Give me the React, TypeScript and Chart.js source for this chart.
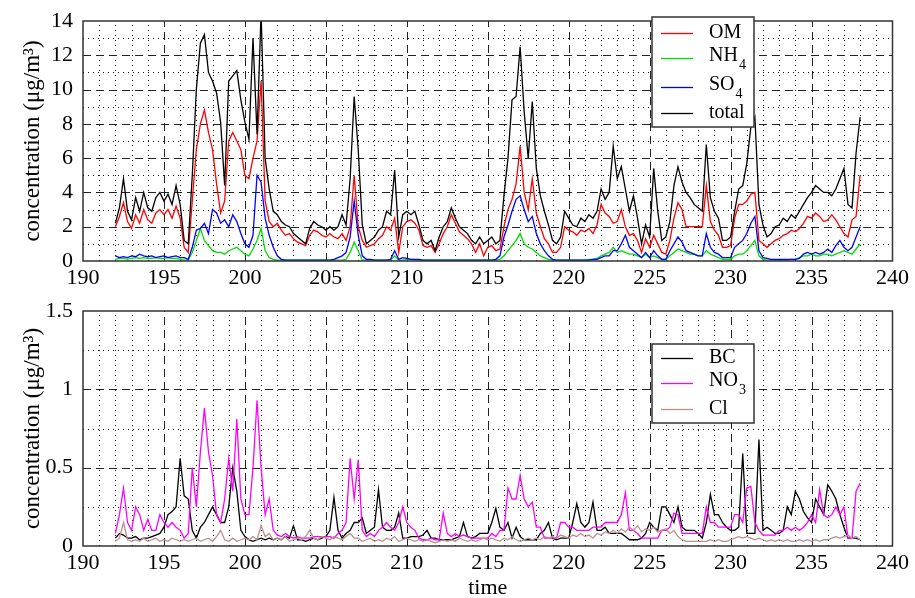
import React, { useEffect, useRef } from 'react';
import { Chart, registerables } from 'chart.js';
Chart.register(...registerables);

// sampling: day 192.0 to 238.0, every 0.25 day
const TIME_START = 192;
const TIME_STEP = 0.25;

// ---------- top panel (µg/m3) ----------
const totalSeries = [
  2.2, 3.1, 4.8, 2.9, // 192
  2.4, 3.7, 2.9, 4.0, // 193
  3.1, 2.9, 3.7, 4.0, // 194
  3.5, 3.9, 3.3, 4.4, // 195
  3.3, 1.2, 1.0, 5.0, // 196
  10.0, 12.7, 13.2, 11.0, // 197
  10.5, 9.8, 8.1, 4.4, // 198
  10.5, 10.8, 11.1, 9.4, // 199
  8.1, 7.1, 13.0, 7.4, // 200
  14.5, 6.0, 4.2, 2.9, // 201
  2.7, 2.3, 2.1, 2.0, // 202
  1.6, 1.4, 1.2, 1.0, // 203
  1.9, 2.3, 2.1, 2.0, // 204
  1.8, 2.0, 1.8, 2.0, // 205
  2.7, 2.1, 4.8, 9.6, // 206
  6.5, 2.1, 1.0, 1.2, // 207
  1.4, 1.8, 2.0, 2.9, // 208
  2.7, 5.3, 1.4, 2.7, // 209
  2.9, 2.7, 2.9, 2.1, // 210
  1.2, 1.0, 1.2, 0.6, // 211
  1.4, 2.0, 2.3, 3.1, // 212
  2.5, 2.0, 1.8, 1.6, // 213
  1.2, 1.0, 1.4, 1.0, // 214
  1.2, 1.4, 1.0, 1.2, // 215
  3.8, 6.0, 9.4, 9.6, // 216
  12.5, 8.7, 6.0, 9.3, // 217
  5.4, 3.8, 2.9, 2.1, // 218
  1.2, 1.0, 1.4, 2.9, // 219
  2.5, 2.1, 2.0, 2.5, // 220
  2.3, 2.7, 2.5, 2.9, // 221
  4.2, 3.6, 4.0, 6.7, // 222
  4.8, 5.5, 4.2, 2.9, // 223
  3.8, 2.5, 1.0, 2.1, // 224
  1.4, 5.4, 2.9, 1.2, // 225
  1.4, 2.3, 4.4, 5.5, // 226
  4.6, 4.0, 3.7, 3.3, // 227
  3.1, 2.9, 6.8, 3.7, // 228
  2.9, 2.5, 1.2, 1.2, // 229
  1.4, 2.9, 4.2, 4.4, // 230
  5.7, 7.8, 8.4, 3.3, // 231
  2.1, 1.4, 1.6, 2.0, // 232
  2.1, 2.5, 2.3, 2.7, // 233
  2.5, 2.9, 3.3, 3.7, // 234
  4.0, 4.4, 4.2, 4.0, // 235
  4.0, 3.8, 4.2, 4.8, // 236
  5.4, 3.3, 3.1, 6.3, // 237
  8.4, // 238
];

const omSeries = [
  2.0, 2.6, 3.4, 2.3,
  1.9, 2.7, 2.2, 3.0,
  2.4, 2.2, 2.8, 3.0,
  2.7, 3.0, 2.5, 3.2,
  2.5, 0.8, 0.5, 3.5,
  6.5, 8.0, 8.8, 7.5,
  6.5, 4.5, 2.8, 3.5,
  7.0, 7.5, 7.0, 6.5,
  5.0, 4.8, 6.0, 7.0,
  10.5, 3.5, 2.3, 2.0,
  2.2, 1.8, 1.5, 1.6,
  1.3, 1.1, 1.0, 0.9,
  1.5, 1.8, 1.7, 1.5,
  1.4, 1.6, 1.4, 1.3,
  1.6, 1.2, 2.0, 5.0,
  2.0, 1.2, 0.8, 0.9,
  1.0, 1.3, 1.5, 2.0,
  1.8, 2.5, 0.5, 2.0,
  2.3, 2.4, 2.2, 1.8,
  0.9, 0.8, 0.9, 0.5,
  1.0, 1.6, 2.0, 2.7,
  2.2, 1.7, 1.5, 1.3,
  1.0, 0.5, 1.0, 0.3,
  0.8, 0.9, 0.6, 0.7,
  2.0, 3.0, 3.6, 4.5,
  6.7, 4.0, 3.0, 4.8,
  2.8, 2.0, 1.3, 1.0,
  0.5, 0.5, 0.8, 2.0,
  1.8, 1.7, 1.5, 1.8,
  1.7, 1.9, 1.6, 2.1,
  3.3, 2.8, 2.6, 2.2,
  2.3, 3.0, 2.0, 1.5,
  1.6, 1.2, 0.5, 1.3,
  0.8, 1.5, 1.0, 0.5,
  0.4, 1.2, 2.5, 3.4,
  3.0, 2.0, 2.0, 2.0,
  2.0, 2.0, 4.4, 2.3,
  1.8, 1.5, 0.8, 0.8,
  0.9, 2.5, 3.3, 3.3,
  3.5, 3.9, 4.0, 1.2,
  1.0, 0.8, 1.0, 1.2,
  1.3, 1.5, 1.6, 1.8,
  1.7, 1.9, 2.2, 2.6,
  2.5, 2.8, 2.6, 2.3,
  2.4, 2.7, 2.4, 2.0,
  1.6, 1.4, 2.4, 2.6,
  5.0,
];

const nh4Series = [
  0.1, 0.15, 0.15, 0.1,
  0.15, 0.2, 0.15, 0.2,
  0.15, 0.15, 0.2, 0.15,
  0.15, 0.2, 0.15, 0.15,
  0.1, 0.05, 0.05, 0.5,
  1.2, 1.9, 1.2, 0.9,
  0.6, 0.5, 0.5, 0.4,
  0.6, 0.7, 0.8, 0.6,
  0.4, 0.3, 0.7, 1.2,
  1.9, 0.6, 0.2, 0.1,
  0.05, 0.05, 0.05, 0.05,
  0.05, 0.05, 0.05, 0.05,
  0.05, 0.05, 0.05, 0.05,
  0.05, 0.05, 0.05, 0.05,
  0.05, 0.1, 0.5, 1.1,
  0.6, 0.05, 0.05, 0.05,
  0.05, 0.05, 0.05, 0.05,
  0.05, 0.3, 0.05, 0.05,
  0.1, 0.1, 0.08, 0.05,
  0.05, 0.05, 0.05, 0.05,
  0.05, 0.05, 0.05, 0.05,
  0.05, 0.05, 0.05, 0.05,
  0.05, 0.05, 0.05, 0.05,
  0.05, 0.05, 0.05, 0.1,
  0.3, 0.6, 0.9, 1.2,
  1.6, 1.0, 0.8, 0.7,
  0.5, 0.3, 0.2, 0.1,
  0.05, 0.05, 0.05, 0.05,
  0.05, 0.05, 0.05, 0.05,
  0.05, 0.1, 0.1, 0.15,
  0.3, 0.4, 0.5, 0.8,
  0.5, 0.6, 0.5, 0.4,
  0.4, 0.3, 0.2, 0.4,
  0.2, 0.3, 0.2, 0.1,
  0.1, 0.3, 0.5, 0.7,
  0.6, 0.5, 0.4, 0.4,
  0.3, 0.3, 0.6, 0.4,
  0.3, 0.2, 0.1, 0.1,
  0.1, 0.3, 0.4, 0.4,
  0.6, 0.9, 1.2, 0.3,
  0.1, 0.05, 0.05, 0.05,
  0.05, 0.05, 0.05, 0.1,
  0.1, 0.2, 0.3, 0.3,
  0.4, 0.3, 0.3, 0.4,
  0.4, 0.3, 0.4, 0.5,
  0.6, 0.5, 0.4, 0.7,
  1.0,
];

const so4Series = [
  0.3, 0.2, 0.25, 0.2,
  0.3, 0.25, 0.4, 0.3,
  0.25, 0.3, 0.2, 0.25,
  0.3, 0.2, 0.25, 0.3,
  0.2, 0.2, 0.1, 0.8,
  1.8, 1.9, 2.2, 1.6,
  3.0, 2.8, 2.2, 2.4,
  2.0, 2.7, 2.3, 1.6,
  1.0, 0.8, 1.5, 5.0,
  4.6, 2.5, 1.5, 0.8,
  0.3, 0.1, 0.05, 0.05,
  0.05, 0.05, 0.05, 0.05,
  0.05, 0.05, 0.05, 0.05,
  0.05, 0.05, 0.1, 0.2,
  0.3, 0.5, 1.4, 3.5,
  1.5, 0.3, 0.1, 0.1,
  0.05, 0.05, 0.05, 0.05,
  0.1, 0.6, 0.1, 0.2,
  0.15, 0.1, 0.1, 0.1,
  0.05, 0.05, 0.05, 0.05,
  0.05, 0.05, 0.05, 0.05,
  0.05, 0.05, 0.05, 0.05,
  0.05, 0.05, 0.05, 0.05,
  0.05, 0.05, 0.1, 0.3,
  1.4, 2.1, 2.9, 3.6,
  3.8, 3.0, 2.3, 2.6,
  1.6, 1.0, 0.6, 0.3,
  0.1, 0.05, 0.05, 0.05,
  0.05, 0.05, 0.05, 0.05,
  0.05, 0.05, 0.1, 0.1,
  0.2, 0.3, 0.3, 0.6,
  0.6, 1.0, 1.5, 0.8,
  0.6, 0.4, 0.2, 0.5,
  0.2, 0.6, 0.3, 0.1,
  0.1, 0.6, 1.0, 1.4,
  1.1, 0.6, 0.5, 0.4,
  0.3, 0.3, 1.6, 0.8,
  0.5, 0.4, 0.2, 0.2,
  0.2, 0.8, 1.0, 1.2,
  1.6, 2.2, 2.6, 0.6,
  0.2, 0.15, 0.1, 0.1,
  0.1, 0.1, 0.1, 0.1,
  0.1, 0.15, 0.4, 0.5,
  0.4, 0.5, 0.4, 0.5,
  0.7, 0.5, 0.9, 1.2,
  0.8, 0.6, 0.8, 1.4,
  2.0,
];

// ---------- bottom panel (µg/m3) ----------
const bcSeries = [
  0.05, 0.08, 0.07, 0.05,
  0.05, 0.06, 0.04, 0.05,
  0.05, 0.06, 0.07, 0.08,
  0.12, 0.2, 0.22, 0.25,
  0.56, 0.32, 0.3, 0.1,
  0.05, 0.12, 0.15, 0.2,
  0.25, 0.2, 0.15, 0.15,
  0.25, 0.5, 0.35, 0.1,
  0.06, 0.04, 0.03, 0.04,
  0.05, 0.04, 0.05, 0.04,
  0.05, 0.04, 0.06, 0.05,
  0.13, 0.04, 0.04, 0.03,
  0.04, 0.05, 0.04, 0.05,
  0.06, 0.1, 0.31, 0.1,
  0.05, 0.08, 0.1, 0.15,
  0.15, 0.18, 0.08, 0.1,
  0.12, 0.36, 0.12, 0.1,
  0.1, 0.12, 0.21, 0.05,
  0.05, 0.06, 0.06, 0.06,
  0.07, 0.1, 0.05, 0.05,
  0.04, 0.04, 0.04, 0.04,
  0.05, 0.06, 0.15, 0.06,
  0.05, 0.06, 0.08, 0.08,
  0.08, 0.15, 0.24, 0.12,
  0.1, 0.15, 0.05, 0.12,
  0.06, 0.04, 0.04, 0.04,
  0.04, 0.08, 0.1, 0.15,
  0.05, 0.04, 0.05, 0.05,
  0.05, 0.15, 0.27, 0.15,
  0.12, 0.15, 0.28, 0.1,
  0.1, 0.12, 0.08, 0.08,
  0.08, 0.08, 0.06, 0.04,
  0.04, 0.04, 0.05, 0.08,
  0.15, 0.12, 0.1, 0.25,
  0.25, 0.2, 0.15, 0.25,
  0.12, 0.1, 0.1, 0.1,
  0.08, 0.05, 0.15, 0.33,
  0.2, 0.2, 0.15, 0.12,
  0.1, 0.1, 0.12, 0.59,
  0.08, 0.08, 0.08, 0.68,
  0.1, 0.12, 0.1, 0.08,
  0.08, 0.1, 0.25, 0.2,
  0.35, 0.3, 0.22, 0.18,
  0.15, 0.3, 0.25, 0.2,
  0.39, 0.35, 0.3, 0.2,
  0.12, 0.05, 0.05, 0.05,
  0.04,
];

const no3Series = [
  0.08, 0.2, 0.37, 0.15,
  0.1, 0.25, 0.2, 0.1,
  0.17, 0.1, 0.1, 0.2,
  0.15, 0.12, 0.15, 0.12,
  0.1, 0.05, 0.08, 0.5,
  0.25, 0.6, 0.88, 0.6,
  0.45, 0.2, 0.15, 0.3,
  0.56, 0.35, 0.81, 0.3,
  0.2, 0.2, 0.5, 0.93,
  0.5, 0.2, 0.3, 0.1,
  0.07, 0.06, 0.08, 0.06,
  0.05, 0.06, 0.05, 0.05,
  0.05, 0.06, 0.06, 0.06,
  0.06, 0.06, 0.05, 0.08,
  0.1, 0.15, 0.56, 0.3,
  0.55, 0.1, 0.06, 0.08,
  0.06, 0.1, 0.12, 0.15,
  0.12, 0.1, 0.15, 0.25,
  0.15, 0.12, 0.1, 0.05,
  0.04, 0.04, 0.05, 0.04,
  0.04, 0.21, 0.08, 0.06,
  0.08, 0.06, 0.07, 0.06,
  0.05, 0.05, 0.05, 0.05,
  0.05, 0.08, 0.06, 0.1,
  0.1, 0.37, 0.3, 0.3,
  0.45, 0.3, 0.25, 0.28,
  0.12, 0.12, 0.05, 0.05,
  0.05, 0.05, 0.15, 0.15,
  0.12, 0.12, 0.1, 0.1,
  0.1, 0.1, 0.12, 0.12,
  0.12, 0.15, 0.15, 0.15,
  0.15, 0.2, 0.34, 0.1,
  0.1, 0.08, 0.05, 0.05,
  0.05, 0.05, 0.05, 0.1,
  0.1, 0.12, 0.21, 0.2,
  0.08, 0.08, 0.08, 0.08,
  0.08, 0.08, 0.25, 0.15,
  0.15, 0.12, 0.12, 0.12,
  0.12, 0.2, 0.2, 0.15,
  0.37, 0.38, 0.15, 0.1,
  0.07, 0.07, 0.07, 0.07,
  0.1, 0.1, 0.12, 0.1,
  0.12, 0.1, 0.12, 0.15,
  0.2, 0.15, 0.36, 0.2,
  0.18, 0.2, 0.25, 0.2,
  0.25, 0.05, 0.05, 0.35,
  0.4,
];

const clSeries = [
  0.03, 0.05, 0.15, 0.04,
  0.03, 0.04, 0.03, 0.05,
  0.03, 0.04, 0.05, 0.03,
  0.04, 0.03, 0.05, 0.04,
  0.03, 0.04, 0.03, 0.04,
  0.05, 0.03, 0.04, 0.05,
  0.03, 0.06, 0.1, 0.04,
  0.03, 0.05, 0.03, 0.04,
  0.05, 0.04, 0.06, 0.04,
  0.13, 0.06, 0.08, 0.04,
  0.05, 0.04, 0.06, 0.03,
  0.04, 0.05, 0.04, 0.06,
  0.1, 0.05, 0.04, 0.06,
  0.05, 0.04, 0.06, 0.05,
  0.04, 0.06, 0.08, 0.05,
  0.05, 0.03, 0.04, 0.05,
  0.03, 0.04, 0.03, 0.05,
  0.04, 0.06, 0.03, 0.04,
  0.05, 0.04, 0.03, 0.04,
  0.03, 0.04, 0.03, 0.02,
  0.03, 0.04, 0.03, 0.04,
  0.03, 0.05, 0.04, 0.03,
  0.04, 0.03, 0.04, 0.05,
  0.04, 0.05, 0.04, 0.03,
  0.05, 0.04, 0.06, 0.04,
  0.03, 0.04, 0.05, 0.04,
  0.05, 0.04, 0.06, 0.05,
  0.06, 0.05, 0.07, 0.06,
  0.05, 0.07, 0.06, 0.08,
  0.06, 0.07, 0.05, 0.08,
  0.07, 0.09, 0.08, 0.1,
  0.08, 0.11, 0.09, 0.12,
  0.1, 0.13, 0.09, 0.11,
  0.1, 0.12, 0.09, 0.1,
  0.11, 0.08, 0.1, 0.06,
  0.04, 0.03, 0.03, 0.03,
  0.03, 0.03, 0.03, 0.04,
  0.03, 0.04, 0.03, 0.03,
  0.04, 0.05, 0.06, 0.05,
  0.06, 0.05, 0.04, 0.05,
  0.04, 0.03, 0.04, 0.03,
  0.04, 0.03, 0.04, 0.03,
  0.03, 0.04, 0.03, 0.04,
  0.03, 0.04, 0.03, 0.04,
  0.04, 0.05, 0.06, 0.05,
  0.06, 0.07, 0.05, 0.06,
  0.04,
];

const times = totalSeries.map((_, i) => TIME_START + i * TIME_STEP);

const xTicksRange = { min: 190, max: 240, step: 5 };
const topYRange = { min: 0, max: 14, step: 2, minor: 1 };
const bottomYRange = { min: 0, max: 1.5, step: 0.5, minor: 0.25 };

const yTitle = 'concentration (μg/m³)';
const xTitle = 'time';

const FONT = '"Liberation Serif", "Times New Roman", Times, serif';

type LegendBox = { x: number; y: number; w: number; h: number; rows: number[] };

const toPoints = (vals: number[]) => vals.map((v, i) => ({ x: times[i], y: v }));

function gridFramePlugin(minorY: number, majorY: number) {
  return {
    id: 'gridFrame',
    beforeDatasetsDraw(chart: any) {
      const { ctx, chartArea: a, scales } = chart;
      const x = scales.x;
      const y = scales.y;
      ctx.save();
      ctx.lineWidth = 1;
      for (let v = Math.ceil(x.min) + 1; v < x.max; v++) {
        const px = Math.round(x.getPixelForValue(v)) + 0.5;
        const major = v % 5 === 0;
        ctx.setLineDash(major ? [8, 5] : [1, 4]);
        ctx.strokeStyle = major ? '#222' : '#111';
        ctx.beginPath();
        ctx.moveTo(px, a.bottom);
        ctx.lineTo(px, a.top);
        ctx.stroke();
      }
      const n = Math.round((y.max - y.min) / minorY);
      for (let k = 1; k < n; k++) {
        const v = y.min + k * minorY;
        const r = v / majorY;
        const major = Math.abs(r - Math.round(r)) < 1e-6;
        const py = Math.round(y.getPixelForValue(v)) + 0.5;
        ctx.setLineDash(major ? [8, 5] : [1, 4]);
        ctx.strokeStyle = major ? '#222' : '#111';
        ctx.beginPath();
        ctx.moveTo(a.left, py);
        ctx.lineTo(a.right, py);
        ctx.stroke();
      }
      ctx.restore();
    },
    afterDatasetsDraw(chart: any) {
      const { ctx, chartArea: a } = chart;
      ctx.save();
      ctx.setLineDash([]);
      ctx.strokeStyle = '#333';
      ctx.lineWidth = 1.5;
      ctx.strokeRect(a.left, a.top, a.right - a.left, a.bottom - a.top);
      ctx.restore();
    },
  };
}

function boxLegendPlugin(box: LegendBox) {
  return {
    id: 'boxLegend',
    afterDraw(chart: any) {
      const { ctx } = chart;
      ctx.save();
      ctx.setLineDash([]);
      ctx.fillStyle = '#fff';
      ctx.fillRect(box.x, box.y, box.w, box.h);
      ctx.strokeStyle = '#333';
      ctx.lineWidth = 1.5;
      ctx.strokeRect(box.x, box.y, box.w, box.h);
      chart.data.datasets.forEach((ds: any, i: number) => {
        const ry = box.rows[i];
        ctx.strokeStyle = ds.borderColor;
        ctx.lineWidth = 1.3;
        ctx.beginPath();
        ctx.moveTo(box.x + 9, ry + 0.5);
        ctx.lineTo(box.x + 41, ry + 0.5);
        ctx.stroke();
        const label: string = ds.label;
        const m = label.match(/^(.*?)(\d*)$/);
        const main = m ? m[1] : label;
        const sub = m ? m[2] : '';
        ctx.fillStyle = '#000';
        ctx.textBaseline = 'middle';
        ctx.textAlign = 'left';
        ctx.font = `20px ${FONT}`;
        const ty = sub ? ry - 2 : ry;
        ctx.fillText(main, box.x + 57, ty);
        if (sub) {
          const w = ctx.measureText(main).width;
          ctx.font = `14px ${FONT}`;
          ctx.fillText(sub, box.x + 57 + w + 1, ty + 9);
        }
      });
      ctx.restore();
    },
  };
}

function baseOptions(yr: { min: number; max: number; step: number }, padTop: number, xHeight: number, showXTitle: boolean) {
  return {
    responsive: false,
    animation: false as const,
    events: [] as any[],
    layout: { padding: { top: padTop, right: 18, left: 0, bottom: 0 } },
    plugins: { legend: { display: false }, tooltip: { enabled: false } },
    elements: { point: { radius: 0 }, line: { tension: 0, borderWidth: 1.3 } },
    scales: {
      x: {
        type: 'linear' as const,
        min: xTicksRange.min,
        max: xTicksRange.max,
        grid: { display: false, drawTicks: false },
        border: { display: false },
        ticks: {
          stepSize: xTicksRange.step,
          padding: 6,
          color: '#000',
          maxRotation: 0,
          autoSkip: false,
          font: { family: FONT, size: 22, lineHeight: 1 },
        },
        title: {
          display: showXTitle,
          text: xTitle,
          color: '#000',
          font: { family: FONT, size: 22, lineHeight: 0.85 },
          padding: { top: 0, bottom: 0 },
        },
        afterFit: (s: any) => {
          s.height = xHeight;
        },
      },
      y: {
        type: 'linear' as const,
        min: yr.min,
        max: yr.max,
        grid: { display: false, drawTicks: false },
        border: { display: false },
        ticks: {
          stepSize: yr.step,
          padding: 10,
          color: '#000',
          font: { family: FONT, size: 22, lineHeight: 1 },
          callback: (v: any) => String(Number(v)),
        },
        title: {
          display: true,
          text: yTitle,
          color: '#000',
          font: { family: FONT, size: 23 },
          padding: { top: 19, bottom: 0 },
        },
        afterFit: (s: any) => {
          s.width = 83;
        },
      },
    },
  };
}

function TopPanel() {
  const ref = useRef<HTMLCanvasElement | null>(null);
  useEffect(() => {
    if (!ref.current) return;
    const chart = new Chart(ref.current, {
      type: 'line',
      data: {
        datasets: [
          { label: 'OM', data: toPoints(omSeries), borderColor: '#ff0000', order: 4 },
          { label: 'NH4', data: toPoints(nh4Series), borderColor: '#00dd00', order: 3 },
          { label: 'SO4', data: toPoints(so4Series), borderColor: '#0000ff', order: 2 },
          { label: 'total', data: toPoints(totalSeries), borderColor: '#000000', order: 1 },
        ],
      },
      options: baseOptions(topYRange, 17, 29, false) as any,
      plugins: [
        gridFramePlugin(topYRange.minor, topYRange.step),
        boxLegendPlugin({ x: 652, y: 17, w: 102, h: 110, rows: [33, 58, 87, 113] }),
      ],
    });
    return () => chart.destroy();
  }, []);
  return <canvas ref={ref} width={915} height={290} style={{ display: 'block' }} />;
}

function BottomPanel() {
  const ref = useRef<HTMLCanvasElement | null>(null);
  useEffect(() => {
    if (!ref.current) return;
    const chart = new Chart(ref.current, {
      type: 'line',
      data: {
        datasets: [
          { label: 'BC', data: toPoints(bcSeries), borderColor: '#000000', order: 3 },
          { label: 'NO3', data: toPoints(no3Series), borderColor: '#ff00ff', order: 2 },
          { label: 'Cl', data: toPoints(clSeries), borderColor: '#bc8f8f', order: 1 },
        ],
      },
      options: baseOptions(bottomYRange, 12, 52, true) as any,
      plugins: [
        gridFramePlugin(bottomYRange.minor, bottomYRange.step),
        boxLegendPlugin({ x: 652, y: 54, w: 102, h: 79, rows: [68, 93, 119] }),
      ],
    });
    return () => chart.destroy();
  }, []);
  return <canvas ref={ref} width={915} height={308} style={{ display: 'block' }} />;
}

export default function App() {
  return (
    <div style={{ position: 'absolute', left: 0, top: 0, width: 915, height: 598, background: '#fff' }}>
      <TopPanel />
      <BottomPanel />
    </div>
  );
}
